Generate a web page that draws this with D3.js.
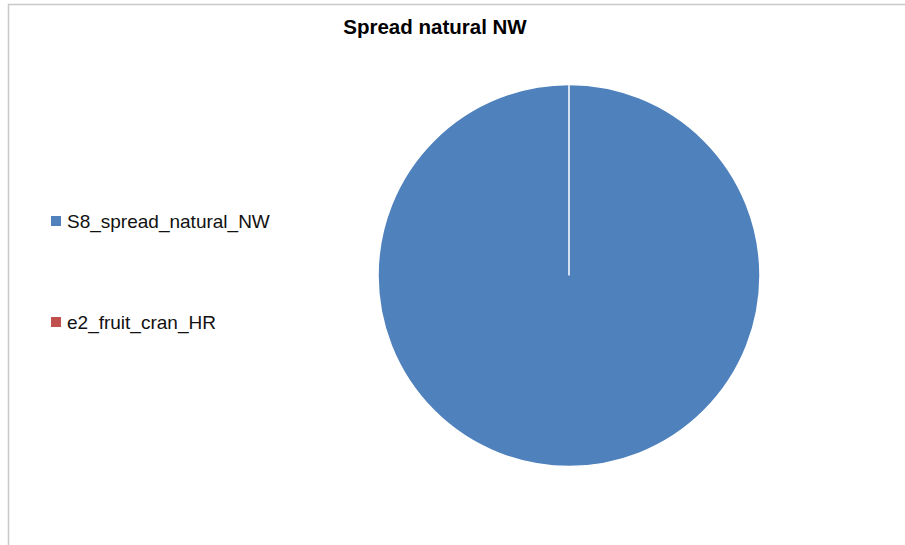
<!DOCTYPE html>
<html>
<head>
<meta charset="utf-8">
<script src="https://cdn.jsdelivr.net/npm/d3@7"></script>
<style>
  body { margin: 0; background: #fff; }
  svg { display: block; }
</style>
</head>
<body>
<div id="chart" style="width:905px;height:545px"></div>
<script>
var categories = ["S8_spread_natural_NW", "e2_fruit_cran_HR"];
var values = [100, 0];
var colors = ["#4F81BD", "#C0504D"];
var title = "Spread natural NW";

var width = 905, height = 545;
var svg = d3.select("#chart").append("svg")
    .attr("width", width)
    .attr("height", height);

// chart frame
svg.append("rect")
    .attr("x", 8.5).attr("y", 4.5)
    .attr("width", 905).attr("height", 560)
    .style("fill", "white")
    .style("stroke", "#c8c8c8")
    .style("stroke-width", 1.5);

svg.append("text")
    .attr("x", 435).attr("y", 34)
    .attr("text-anchor", "middle")
    .style("font-family", "'Liberation Sans', sans-serif")
    .style("font-weight", "bold")
    .style("font-size", "20.5px")
    .style("fill", "#000")
    .text(title);

var radius = 191;
var g = svg.append("g")
    .attr("transform", "translate(569,275.5)");

var pie = d3.pie().sort(null).value(function (d) { return d; });
var arc = d3.arc().innerRadius(0).outerRadius(radius);

g.selectAll("path.slice")
    .data(pie(values))
    .enter().append("path")
    .attr("class", "slice")
    .attr("d", arc)
    .style("fill", function (d, i) { return colors[i]; })
    .style("stroke", "white")
    .style("stroke-width", 1.5);

// legend
var legend = svg.append("g").attr("class", "legend");
var item = legend.selectAll("g.item")
    .data(categories)
    .enter().append("g")
    .attr("class", "item")
    .attr("transform", function (d, i) { return "translate(51," + (221 + i * 101) + ")"; });

item.append("rect")
    .attr("x", 0).attr("y", -5)
    .attr("width", 10).attr("height", 10)
    .style("fill", function (d, i) { return colors[i]; });

item.append("text")
    .attr("x", 16).attr("y", 6.5)
    .style("font-family", "'Liberation Sans', sans-serif")
    .style("font-size", "19px")
    .style("fill", "#111")
    .text(function (d) { return d; });
</script>
</body>
</html>
